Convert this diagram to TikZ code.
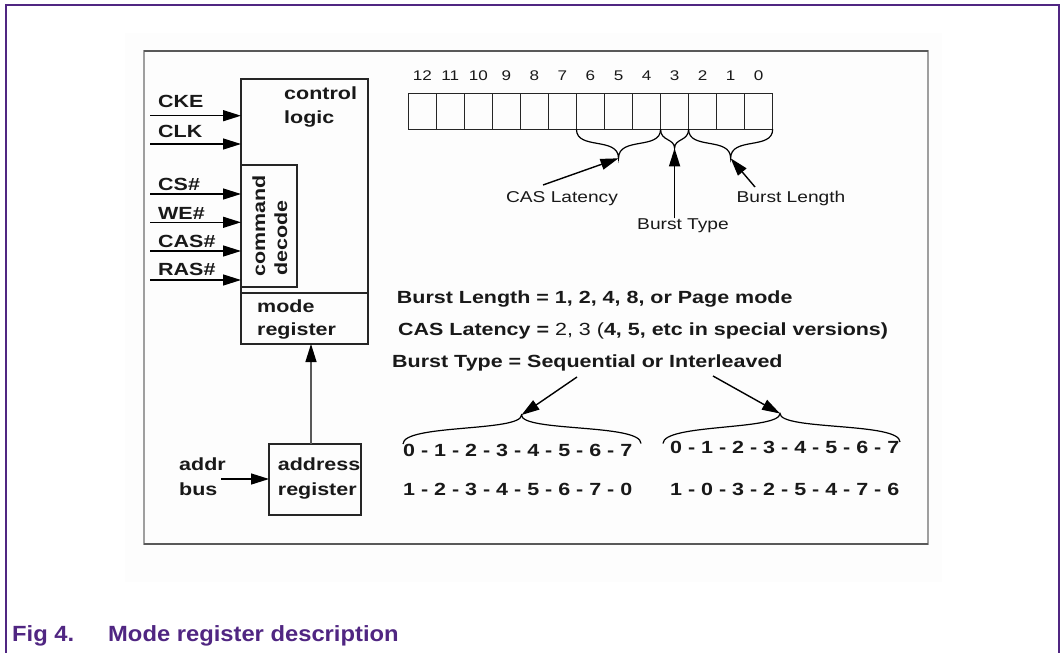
\documentclass[tikz,border=0pt]{standalone}
\usepackage{fontspec}
\usetikzlibrary{arrows.meta,calc}
\newfontfamily\diagfont{Liberation Sans}[FakeStretch=1.22]
\newfontfamily\capfont{Liberation Sans}[FakeStretch=1.08]
\definecolor{nxppurple}{RGB}{80,38,130}

\begin{document}
\begin{tikzpicture}[x=1pt,y=-1pt]
\tikzstyle{box}=[draw=black!85, line width=1.3pt, inner sep=0pt, outer sep=0pt]
\tikzstyle{btxt}=[font=\diagfont\bfseries\fontsize{17.6}{21}\selectfont, text=black!90, inner sep=0pt, anchor=base west]
\tikzstyle{rtxt}=[font=\diagfont\fontsize{15.7}{19}\selectfont, text=black!90, inner sep=0pt, anchor=base]
\tikzstyle{numtxt}=[font=\diagfont\fontsize{14}{16}\selectfont, text=black!90, inner sep=0pt, anchor=base]
\tikzstyle{capt}=[font=\capfont\bfseries\fontsize{22}{26}\selectfont, text=nxppurple, inner sep=0pt, anchor=base west]
\tikzstyle{sig}=[line width=1.4pt, -{Triangle[length=18pt,width=11pt]}]
\tikzstyle{brc}=[line width=1.2pt]

\useasboundingbox (0,0) rectangle (1060,653);

% page frame and figure panel
\fill[black!0.6] (125,33) rectangle (942,582);
\draw[gray!75, line width=2pt] (144,51) rectangle (928,544);
\draw[black!65, line width=2pt] (144,51) -- (928,51) (144,544) -- (928,544);
\draw[nxppurple, line width=1.5pt] (6,653) -- (6,5) -- (1059,5) -- (1059,653);
\node[capt] (fig-no) at (12,641.7) {Fig 4.};
\node[capt] (fig-title) at (108,641.7) {Mode register description};

% control logic block
\node[box, minimum width=127pt, minimum height=214pt] (ctrl) at (304.5,186) {};
\node[box, minimum width=127pt, minimum height=51pt] (mode) at (304.5,318.5) {};
\node[box, minimum width=56pt, minimum height=122pt] (dec) at (269,226) {};
\node[btxt] (ctrl-txt) at (284,99.3) {control};
\node[btxt] (logic-txt) at (284,123) {logic};
\node[btxt, rotate=90] (cmd-txt) at (265,277) {command};
\node[btxt, rotate=90] (dec-txt) at (287,276) {decode};
\node[btxt] (mode-txt) at (257,312.7) {mode};
\node[btxt] (reg-txt) at (257,335) {register};

% inputs
\node[btxt] (cke-lbl) at (158,107) {CKE};
\node[btxt] (clk-lbl) at (158,137.7) {CLK};
\node[btxt] (cs-lbl) at (158,190.7) {CS\#};
\node[btxt] (we-lbl) at (158,219) {WE\#};
\node[btxt] (cas-lbl-in) at (158,247.7) {CAS\#};
\node[btxt] (ras-lbl) at (158,275.7) {RAS\#};
\coordinate (cke-in) at (150,115.7);
\coordinate (clk-in) at (150,144);
\coordinate (cs-in) at (150,194);
\coordinate (we-in) at (150,222.3);
\coordinate (cas-in) at (150,251);
\coordinate (ras-in) at (150,280);
\draw[sig] (cke-in) -- (cke-in -| ctrl.west);
\draw[sig] (clk-in) -- (clk-in -| ctrl.west);
\draw[sig] (cs-in) -- (cs-in -| dec.west);
\draw[sig] (we-in) -- (we-in -| dec.west);
\draw[sig] (cas-in) -- (cas-in -| dec.west);
\draw[sig] (ras-in) -- (ras-in -| dec.west);

% address register
\node[box, minimum width=92pt, minimum height=71pt] (addr) at (315,479.5) {};
\node[btxt] (addr-txt) at (277.7,470.7) {address};
\node[btxt] (areg-txt) at (277.7,495) {register};
\node[btxt] (bus-txt) at (179,470.7) {addr};
\node[btxt] (bus-txt2) at (179,495) {bus};
\coordinate (bus-in) at (221,479);
\coordinate (addr-out) at (311,444);
\draw[sig] (bus-in) -- (bus-in -| addr.west);
\draw[line width=1.3pt, gray!70!black, -{Triangle[length=18pt,width=11pt,color=black]}] (addr-out) -- (addr-out |- mode.south);

% mode register bits
\foreach \b [count=\i from 0] in {12,11,...,0} {
  \node[box, minimum width=28.03pt, minimum height=36pt] (bit\b) at (422.3+28.03*\i,111.3) {};
  \node[numtxt] (num\b) at (422.3+28.03*\i,80.7) {\b};
}

% field braces
\coordinate (cas-tip) at ($(bit6.south west)!0.5!(bit4.south east)+(0,29)$);
\coordinate (bt-tip) at ($(bit3.south west)!0.5!(bit3.south east)+(0,19)$);
\coordinate (bl-tip) at ($(bit2.south west)!0.5!(bit0.south east)+(0,29)$);
\draw[brc] (bit6.south west) .. controls ($(bit6.south west)+(0,21)$) and ($(cas-tip)+(0,-22)$) .. (cas-tip)
  .. controls ($(cas-tip)+(0,-22)$) and ($(bit4.south east)+(0,21)$) .. (bit4.south east);
\draw[brc] (bit3.south west) .. controls ($(bit3.south west)+(0,12)$) and ($(bt-tip)+(0,-10)$) .. (bt-tip)
  .. controls ($(bt-tip)+(0,-10)$) and ($(bit3.south east)+(0,12)$) .. (bit3.south east);
\draw[brc] (bit2.south west) .. controls ($(bit2.south west)+(0,21)$) and ($(bl-tip)+(0,-22)$) .. (bl-tip)
  .. controls ($(bl-tip)+(0,-22)$) and ($(bit0.south east)+(0,21)$) .. (bit0.south east);

\node[rtxt] (cas-lbl) at (562,202.7) {CAS Latency};
\node[rtxt] (bt-lbl) at (683,229.3) {Burst Type};
\node[rtxt] (bl-lbl) at (791,202.7) {Burst Length};
\coordinate (cas-from) at (543,185);
\coordinate (bl-from) at (755,187);
\draw[sig] (cas-from) -- (cas-tip);
\draw[sig] (bt-lbl.north -| bt-tip) -- (bt-tip);
\draw[sig] (bl-from) -- (bl-tip);

% field values
\node[btxt] (bl-def) at (396.7,303.3) {Burst Length = 1, 2, 4, 8, or Page mode};
\node[btxt] (cas-def) at (398,335) {CAS Latency = {\mdseries 2, 3 (}4, 5, etc in special versions)};
\node[btxt] (bt-def) at (392,367.3) {Burst Type = Sequential or Interleaved};

% burst orders
\node[btxt] (seq-a) at (403,456) {0 - 1 - 2 - 3 - 4 - 5 - 6 - 7};
\node[btxt] (seq-b) at (403,495) {1 - 2 - 3 - 4 - 5 - 6 - 7 - 0};
\node[btxt] (int-a) at (670,453.3) {0 - 1 - 2 - 3 - 4 - 5 - 6 - 7};
\node[btxt] (int-b) at (670,495) {1 - 0 - 3 - 2 - 5 - 4 - 7 - 6};
\coordinate (seq-l) at (403,444);
\coordinate (seq-r) at (641,443.5);
\coordinate (seq-tip) at (521.5,415);
\coordinate (int-l) at (663,443.5);
\coordinate (int-r) at (900,442);
\coordinate (int-tip) at (780,413.5);
\draw[brc] (seq-l) .. controls ($(seq-l)+(0,-20)$) and ($(seq-tip)+(0,17)$) .. (seq-tip)
  .. controls ($(seq-tip)+(0,17)$) and ($(seq-r)+(0,-20)$) .. (seq-r);
\draw[brc] (int-l) .. controls ($(int-l)+(0,-20)$) and ($(int-tip)+(0,17)$) .. (int-tip)
  .. controls ($(int-tip)+(0,17)$) and ($(int-r)+(0,-20)$) .. (int-r);
\coordinate (seq-from) at (577,377);
\coordinate (int-from) at (713,376);
\draw[sig] (seq-from) -- (seq-tip);
\draw[sig] (int-from) -- (int-tip);
\end{tikzpicture}
\end{document}
